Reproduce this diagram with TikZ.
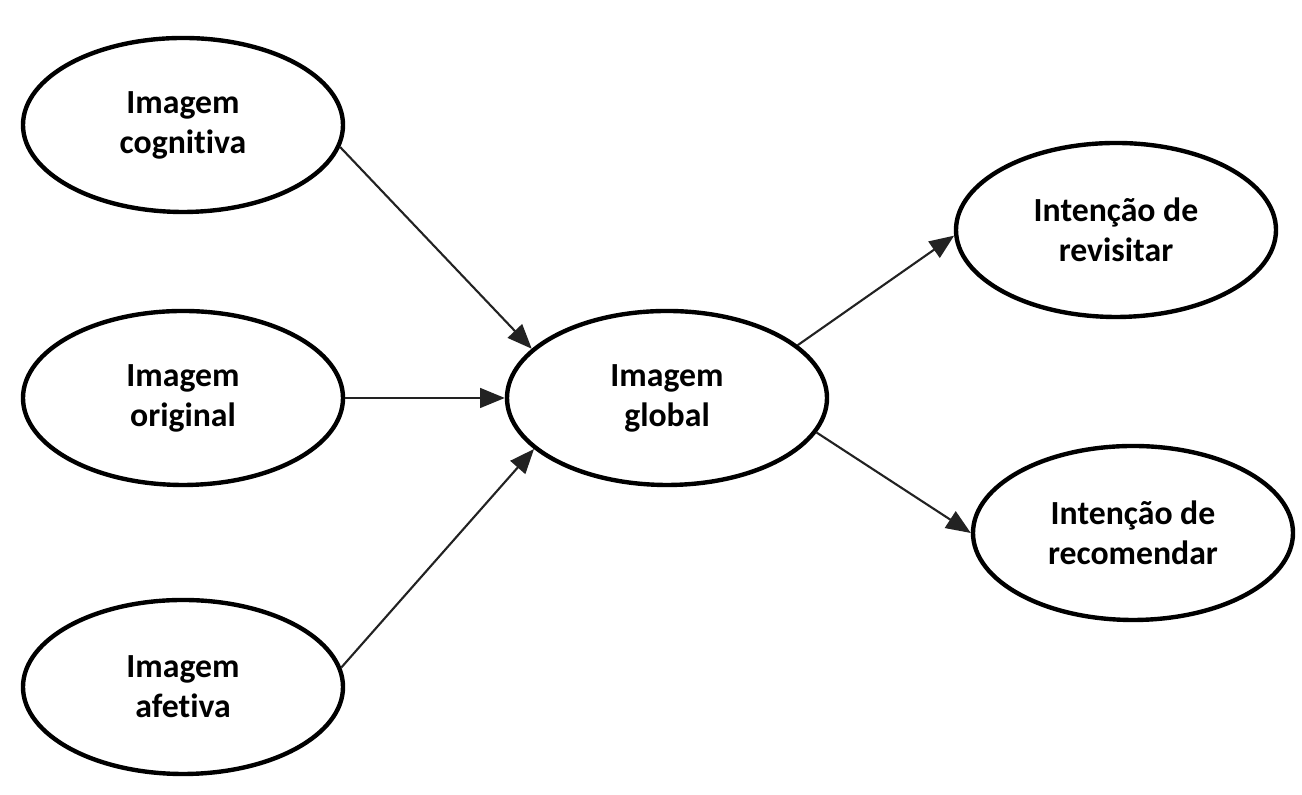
\documentclass[tikz,border=0pt]{standalone}
\usepackage{fontspec}
\setmainfont{Carlito}[Ligatures=NoCommon]
\usepackage{xcolor}
\usepackage{tikz}
\usetikzlibrary{arrows.meta,positioning,shapes.geometric,calc}
\definecolor{Edge}{RGB}{34,34,34}

\begin{document}
\begin{tikzpicture}[
    latent/.style={draw, ellipse, line width=1.25pt, minimum width=3.2cm, minimum height=1.74cm,
      inner sep=0pt, align=center, font=\fontsize{9.6}{11.4}\selectfont\bfseries},
    path/.style={-{Triangle[length=7pt, width=5.6pt]}, line width=0.6pt, Edge}
  ]
    \useasboundingbox (0,0) rectangle (13.02,7.95);
    \foreach \n/\x/\y/\t in {cog/1.83/6.70/{Imagem\\cognitiva}, orig/1.83/3.97/{Imagem\\original},
      afe/1.83/1.08/{Imagem\\afetiva}, glob/6.67/3.97/{Imagem\\global},
      rev/11.16/5.65/{Intenção de\\revisitar}, rec/11.33/2.62/{Intenção de\\recomendar}} {
      \node[latent] (\n) at (\x,\y) {\t};
    }
    \draw[path] (cog.-8) -- (glob.160);
    \draw[path] (orig.east) -- (glob.west);
    \draw[path] (afe.7) -- (glob.201);
    \draw[path] (glob.22) -- (rev.182);
    \draw[path] (glob.-13) -- (rec.west);
  \end{tikzpicture}
\end{document}
